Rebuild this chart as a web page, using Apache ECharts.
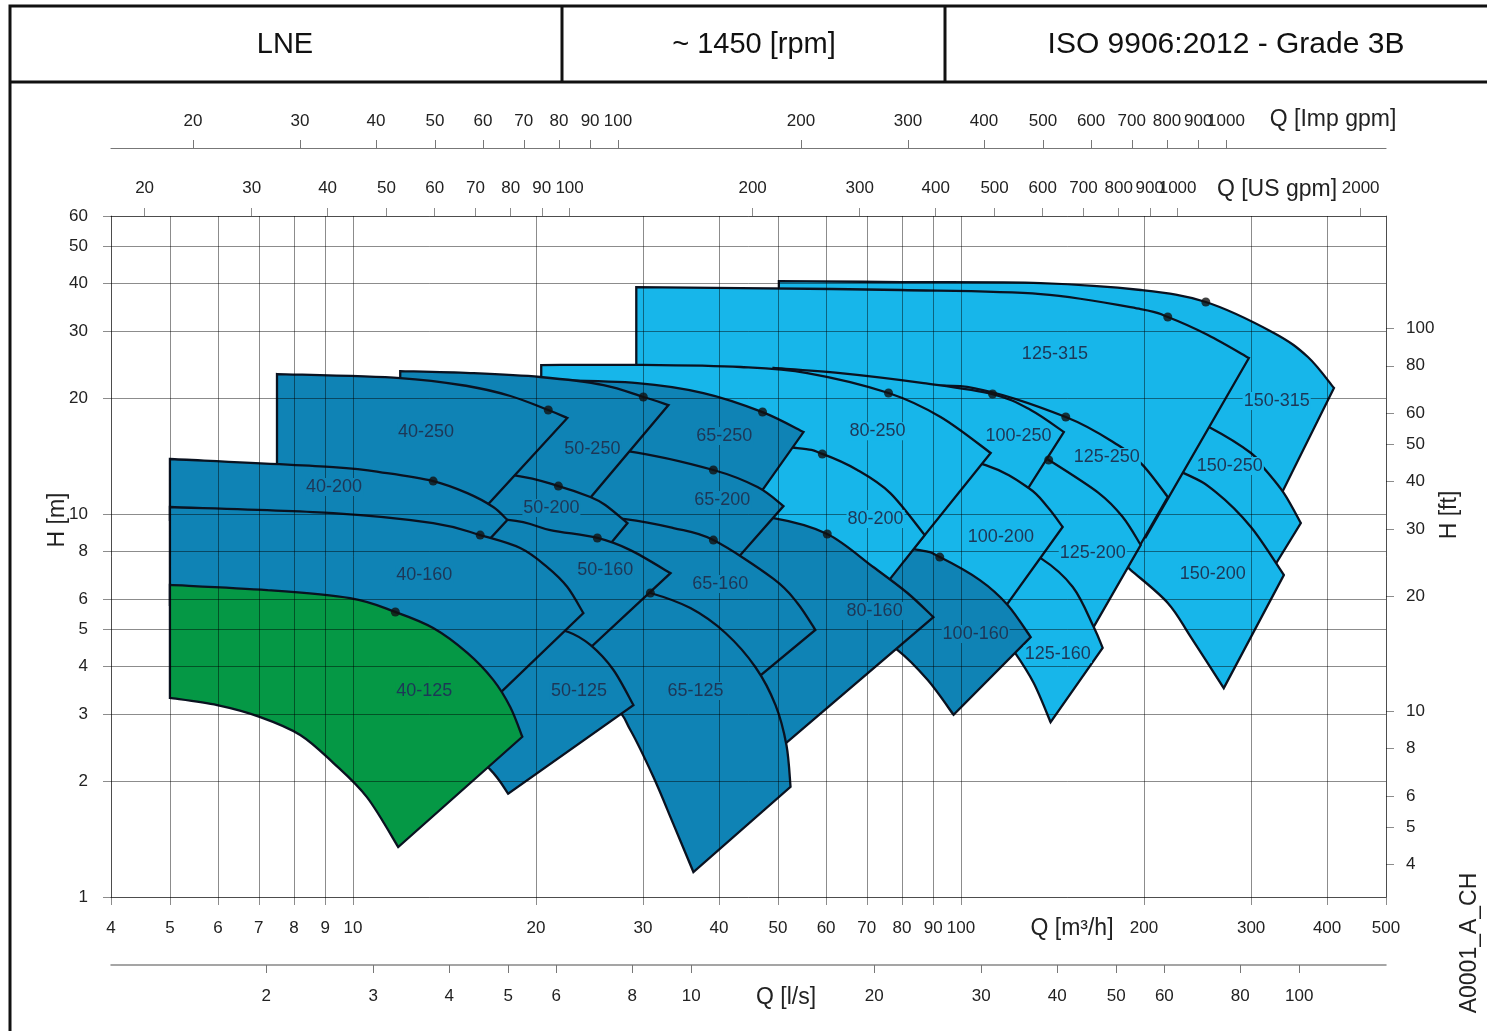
<!DOCTYPE html>
<html>
<head>
<meta charset="utf-8">
<title>LNE ~1450 rpm</title>
<script src="https://cdn.jsdelivr.net/npm/echarts@6/dist/echarts.min.js"></script>
<style>
  html, body { margin: 0; padding: 0; background: #ffffff; }
  #chart { width: 1487px; height: 1031px; }
</style>
</head>
<body>
<div id="chart"></div>
<script>
// ---- axis ranges and tick values ----
const Q_MIN = 4, Q_MAX = 500;          // m3/h
const H_MIN = 1, H_MAX = 60;           // m
const M3H_TO_IMPGPM = 3.66615;
const M3H_TO_USGPM = 4.40287;
const M3H_TO_LS = 1 / 3.6;
const M_TO_FT = 3.28084;

const flowTicksM3h = [4, 5, 6, 7, 8, 9, 10, 20, 30, 40, 50, 60, 70, 80, 90, 100, 200, 300, 400, 500];
const headTicksM = [1, 2, 3, 4, 5, 6, 8, 10, 20, 30, 40, 50, 60];
const flowTicksImpGpm = [20, 30, 40, 50, 60, 70, 80, 90, 100, 200, 300, 400, 500, 600, 700, 800, 900, 1000];
const flowTicksUsGpm = [20, 30, 40, 50, 60, 70, 80, 90, 100, 200, 300, 400, 500, 600, 700, 800, 900, 1000, 2000];
const flowTicksLs = [2, 3, 4, 5, 6, 8, 10, 20, 30, 40, 50, 60, 80, 100];
const headTicksFt = [4, 5, 6, 8, 10, 20, 30, 40, 50, 60, 80, 100];

// ---- operating ranges, [Q m3/h, H m] ----
// maxCurve: largest impeller, left to right; limitTip: lower end of the max-flow edge;
// minCurve: smallest impeller, from the max-flow edge back to the minimum flow.
const p40_125 = { model: '40-125',
  maxCurve: [[5.0, 6.53], [7.22, 6.33], [9.89, 6.03], [11.74, 5.55], [13.55, 5.04], [15.42, 4.34], [17.01, 3.69], [18.15, 3.13], [18.99, 2.62]],
  limitTip: [11.87, 1.35],
  minCurve: [[10.55, 1.82], [9.28, 2.24], [8.19, 2.65], [7.04, 2.95], [5.98, 3.17], [5.0, 3.31]],
  bep: [11.74, 5.55] };
const p40_160 = { model: '40-160',
  maxCurve: [[5.0, 10.43], [9.28, 10.06], [13.55, 9.47], [16.19, 8.81], [18.84, 8.15], [20.87, 7.27], [22.52, 6.45], [23.93, 5.51]],
  limitTip: [16.19, 3.04],
  minCurve: [[13.92, 3.80], [11.96, 4.47], [8.19, 5.28], [5.0, 5.79]],
  bep: [16.19, 8.81] };
const p40_200 = { model: '40-200',
  maxCurve: [[5.0, 13.92], [9.28, 13.26], [11.38, 12.79], [13.55, 12.19], [15.42, 11.34], [17.01, 10.43], [17.94, 9.65]],
  limitTip: [15.59, 7.58],
  minCurve: [[11.96, 8.81], [8.19, 9.36], [5.0, 9.65]],
  bep: [13.55, 12.19] };
const p40_250 = { model: '40-250',
  maxCurve: [[7.5, 23.2], [11.96, 22.65], [15.42, 21.59], [18.15, 20.33], [20.95, 18.69], [22.52, 17.81]],
  limitTip: [16.07, 9.94],
  minCurve: [[12.9, 11.55], [9.9, 12.57], [7.5, 12.87]],
  bep: [20.95, 18.69] };
const p50_125 = { model: '50-125',
  maxCurve: [[11.96, 5.4], [17.48, 5.2], [20.32, 5.08], [22.61, 4.92], [24.57, 4.55], [26.8, 3.92], [28.92, 3.17]],
  limitTip: [18.0, 1.86],
  minCurve: [[16.82, 2.15], [14.45, 2.65], [11.96, 2.93]],
  bep: null };
const p50_160 = { model: '50-160',
  maxCurve: [[11.96, 9.94], [18.0, 9.65], [21.11, 9.08], [25.23, 8.66], [28.59, 8.05], [33.28, 7.01]],
  limitTip: [23.65, 4.23],
  minCurve: [[20.32, 4.98], [16.19, 5.96], [11.96, 6.33]],
  bep: [25.23, 8.66] };
const p50_200 = { model: '50-200',
  maxCurve: [[11.96, 13.67], [18.35, 12.64], [21.77, 11.83], [24.57, 11.08], [26.0, 10.56], [28.28, 9.47]],
  limitTip: [25.52, 7.77],
  minCurve: [[21.93, 8.55], [17.14, 9.19], [11.96, 10.56]],
  bep: [21.77, 11.83] };
const p50_250 = { model: '50-250',
  maxCurve: [[11.96, 23.62], [15.59, 23.34], [20.32, 22.79], [25.82, 21.72], [30.03, 20.21], [33.03, 19.26]],
  limitTip: [23.47, 10.12],
  minCurve: [[18.84, 11.55], [14.45, 13.03], [11.96, 13.42]],
  bep: [30.03, 20.21] };
const p65_125 = { model: '65-125',
  maxCurve: [[20.4, 6.93], [25.52, 6.64], [30.84, 6.22], [35.89, 5.68], [40.99, 4.89], [45.92, 3.98], [49.54, 3.17], [51.64, 2.49], [52.44, 1.94]],
  limitTip: [36.3, 1.162],
  minCurve: [[33.65, 1.55], [31.19, 2.06], [28.59, 2.73], [26.7, 3.17], [20.4, 4.42]],
  bep: [30.84, 6.22] };
const p65_160 = { model: '65-160',
  maxCurve: [[20.4, 10.12], [28.05, 9.70], [33.65, 9.19], [39.15, 8.55], [49.17, 6.77], [53.8, 5.86], [57.6, 4.98]],
  limitTip: [43.4, 3.43],
  minCurve: [[37.28, 4.42], [30.84, 5.79], [25.52, 6.53], [20.4, 6.93]],
  bep: [39.15, 8.55] };
const p65_200 = { model: '65-200',
  maxCurve: [[20.4, 15.14], [28.28, 14.6], [39.15, 13.03], [46.27, 11.76], [51.05, 10.49]],
  limitTip: [42.23, 7.45],
  minCurve: [[34.55, 8.30], [28.05, 9.08], [20.4, 9.94]],
  bep: [39.15, 13.03] };
const p65_250 = { model: '65-250',
  maxCurve: [[20.4, 22.38], [29.36, 21.98], [37.7, 20.7], [47.16, 18.46], [55.08, 16.37]],
  limitTip: [45.92, 10.88],
  minCurve: [[37.28, 12.27], [28.28, 13.84], [25.52, 14.69], [20.4, 15.61]],
  bep: [47.16, 18.46] };
const p80_160 = { model: '80-160',
  maxCurve: [[20.4, 10.56], [37.28, 10.12], [49.17, 9.76], [60.26, 8.87], [71.74, 7.27], [81.64, 6.22], [90.06, 5.38]],
  limitTip: [47.69, 2.27],
  minCurve: [[40.21, 3.27], [30.84, 4.69], [20.4, 5.96]],
  bep: [60.26, 8.87] };
const p80_200 = { model: '80-200',
  maxCurve: [[20.4, 15.61], [37.28, 15.61], [53.8, 14.87], [59.14, 14.35], [67.52, 13.03], [76.5, 11.34], [87.14, 8.81]],
  limitTip: [75.08, 6.53],
  minCurve: [[60.04, 7.58], [50.5, 9.08], [37.28, 9.65], [20.4, 10.56]],
  bep: [59.14, 14.35] };
const p80_250 = { model: '80-250',
  maxCurve: [[20.4, 24.49], [29.92, 24.5], [43.4, 24.2], [55.86, 23.34], [76.0, 20.7], [92.55, 17.92], [111.9, 14.43]],
  limitTip: [80.77, 7.58],
  minCurve: [[65.81, 9.65], [54.45, 12.27], [37.28, 13.42], [20.4, 16.57]],
  bep: [76.0, 20.7] };
const p100_160 = { model: '100-160',
  maxCurve: [[49.17, 9.08], [65.81, 8.55], [85.54, 8.05], [92.27, 7.72], [107.4, 6.72], [119.3, 5.79], [130.2, 4.77]],
  limitTip: [97.23, 2.99],
  minCurve: [[88.1, 3.69], [78.57, 4.42], [66.0, 5.28], [49.17, 6.33]],
  bep: [92.27, 7.72] };
const p100_200 = { model: '100-200',
  maxCurve: [[49.17, 16.57], [79.54, 15.14], [109.8, 13.42], [129.2, 11.69], [138.8, 10.43], [146.96, 9.25]],
  limitTip: [114.0, 5.28],
  minCurve: [[96.14, 6.33], [79.54, 6.93], [65.81, 8.55], [49.17, 10.88]],
  bep: null };
const p100_250 = { model: '100-250',
  maxCurve: [[49.17, 24.06], [63.32, 23.34], [86.79, 21.98], [112.7, 20.57], [130.2, 18.69], [147.6, 16.37]],
  limitTip: [124.4, 10.68],
  minCurve: [[107.7, 12.64], [79.54, 15.61], [49.17, 17.6]],
  bep: [112.7, 20.57] };
const p125_160 = { model: '125-160',
  maxCurve: [[49.17, 10.56], [79.54, 9.65], [116.2, 8.55], [135.2, 7.67], [152.7, 6.45], [165.3, 5.07], [171.0, 4.47]],
  limitTip: [140.4, 2.86],
  minCurve: [[131.7, 3.62], [122.5, 4.36], [111.9, 5.28], [79.54, 6.33], [49.17, 7.58]],
  bep: null };
const p125_200 = { model: '125-200',
  maxCurve: [[49.17, 18.69], [79.54, 17.6], [116.2, 15.61], [131.7, 14.52], [139.4, 13.84], [168.5, 11.34], [184.5, 9.82], [197.5, 8.30]],
  limitTip: [157.9, 4.47],
  minCurve: [[135.2, 5.61], [116.2, 6.72], [79.54, 9.65], [49.17, 11.55]],
  bep: [139.4, 13.84] };
const p125_250 = { model: '125-250',
  maxCurve: [[49.17, 22.65], [79.54, 21.59], [104.9, 21.33], [148.7, 17.92], [181.1, 15.14], [199.0, 13.42], [218.8, 11.08]],
  limitTip: [188.7, 7.36],
  minCurve: [[157.4, 9.65], [116.2, 13.03], [79.54, 15.61], [49.17, 16.57]],
  bep: [148.7, 17.92] };
const p125_315 = { model: '125-315',
  maxCurve: [[29.24, 39.14], [43.4, 38.9], [79.54, 38.45], [135.2, 37.53], [197.5, 34.3], [218.8, 32.69], [254.7, 29.34], [297.5, 25.55]],
  limitTip: [201.3, 8.71],
  minCurve: [[169.7, 11.55], [116.2, 17.6], [79.54, 18.69], [49.17, 19.85], [37.28, 17.6], [29.24, 17.6]],
  bep: [218.8, 32.69] };
const p150_200 = { model: '150-200',
  maxCurve: [[50.17, 16.57], [116.2, 16.57], [169.7, 15.61], [232.5, 12.79], [262.5, 11.41], [299.8, 9.25], [339.6, 6.93]],
  limitTip: [270.5, 3.51],
  minCurve: [[238.8, 4.77], [218.8, 5.86], [190.2, 7.14], [169.7, 8.30], [116.2, 10.88], [50.17, 13.03]],
  bep: null };
const p150_250 = { model: '150-250',
  maxCurve: [[50.17, 21.07], [116.2, 20.45], [205.2, 19.85], [257.5, 16.77], [299.8, 14.43], [314.8, 13.19], [339.6, 11.34], [362.2, 9.47]],
  limitTip: [320.9, 6.93],
  minCurve: [[267.4, 8.55], [230.1, 9.65], [169.7, 12.27], [116.2, 15.61], [50.17, 17.6]],
  bep: null };
const p150_315 = { model: '150-315',
  maxCurve: [[50.17, 40.58], [79.54, 40.34], [135.2, 40.1], [197.5, 38.45], [252.7, 35.77], [327.0, 29.7], [372.0, 25.7], [410.6, 21.33]],
  limitTip: [329.5, 10.56],
  minCurve: [[283.4, 13.03], [230.1, 15.61], [116.2, 17.6], [50.17, 22.38]],
  bep: [252.7, 35.77] };

// drawing order: larger pumps at the back, smaller ones in front
const pumpsBackToFront = [
  p150_315, p150_250, p150_200,
  p125_315, p125_250, p125_200, p125_160,
  p100_250, p100_200, p100_160,
  p80_250, p80_200, p80_160,
  p65_250, p65_200, p65_160, p65_125,
  p50_250, p50_200, p50_160, p50_125,
  p40_250, p40_200, p40_160, p40_125
];

// model name and where it is printed, [model, Q, H]
const modelLabels = [
  ['40-125', 13.1, 3.45], ['40-160', 13.1, 6.93], ['40-200', 9.31, 11.76], ['40-250', 13.19, 16.37],
  ['50-125', 23.53, 3.45], ['50-160', 26.0, 7.14], ['50-200', 21.2, 10.37], ['50-250', 24.76, 14.78],
  ['65-125', 36.6, 3.45], ['65-160', 40.2, 6.57], ['65-200', 40.5, 10.88], ['65-250', 40.8, 15.98],
  ['80-160', 72.1, 5.58], ['80-200', 72.35, 9.70], ['80-250', 72.9, 16.45],
  ['100-160', 105.7, 4.86], ['100-200', 116.3, 8.71], ['100-250', 124.3, 15.98],
  ['125-160', 144.3, 4.31], ['125-200', 164.7, 7.91], ['125-250', 173.7, 14.09], ['125-315', 142.7, 26.17],
  ['150-200', 259.5, 6.97], ['150-250', 276.8, 13.34], ['150-315', 330.5, 19.72]
];

const greenModels = ['40-125'];
const lightModels = ['80-200', '80-250', '100-200', '100-250', '125-160', '125-200', '125-250', '125-315', '150-200', '150-250', '150-315'];

// ---- styling ----
const FONT = '"Liberation Sans", Arial, Helvetica, sans-serif';
const GREEN = '#059845';
const DARK = '#0f83b5';
const LIGHT = '#17b6ea';
const OUTLINE = '#0a1220';
const GRID = 'rgba(0,0,0,0.45)';
const TICK_TEXT = '#222';

function fillOf(model) {
  if (greenModels.indexOf(model) >= 0) return GREEN;
  if (lightModels.indexOf(model) >= 0) return LIGHT;
  return DARK;
}

function fmt(v) { return String(Math.round(v * 1000) / 1000); }

// smooth curve through pixel points (Catmull-Rom as cubic Beziers)
function curveThrough(pts) {
  let d = '';
  for (let i = 0; i < pts.length - 1; i++) {
    const p0 = pts[i - 1] || pts[i];
    const p1 = pts[i];
    const p2 = pts[i + 1];
    const p3 = pts[i + 2] || p2;
    d += ' C' + (p1[0] + (p2[0] - p0[0]) / 6) + ',' + (p1[1] + (p2[1] - p0[1]) / 6) +
         ' ' + (p2[0] - (p3[0] - p1[0]) / 6) + ',' + (p2[1] - (p3[1] - p1[1]) / 6) +
         ' ' + p2[0] + ',' + p2[1];
  }
  return d;
}

function logAxisBase(extra) {
  return Object.assign({
    type: 'log', logBase: 10, gridIndex: 0,
    axisLine: { show: true, lineStyle: { color: GRID, width: 1 } },
    axisTick: { show: true, length: 8, lineStyle: { color: GRID, width: 1 } },
    splitLine: { show: false },
    nameGap: 0
  }, extra);
}

function labelStyle(values, margin) {
  return {
    customValues: values, margin: margin, fontSize: 17, color: TICK_TEXT, fontFamily: FONT,
    formatter: fmt, showMinLabel: true, showMaxLabel: true, hideOverlap: false
  };
}

// the Imp gpm scale: its last label sits on a second, line-less axis so that
// the crowded 900 / 1000 pair both stay printed
const impLabelsMain = flowTicksImpGpm.slice(0, -1);
const impLabelsLast = flowTicksImpGpm.slice(-1);

const chart = echarts.init(document.getElementById('chart'), null, { renderer: 'canvas' });

const option = {
  animation: false,
  backgroundColor: '#ffffff',
  grid: { left: 111, top: 216, width: 1275, height: 681, containLabel: false, outerBoundsMode: 'none' },
  xAxis: [
    logAxisBase({
      min: Q_MIN, max: Q_MAX, position: 'bottom', z: 3,
      axisTick: { show: true, length: 8, customValues: flowTicksM3h, lineStyle: { color: GRID, width: 1 } },
      axisLabel: labelStyle(flowTicksM3h, 23),
      splitLine: { show: true, lineStyle: { color: GRID, width: 1 } }
    }),
    logAxisBase({
      min: Q_MIN * M3H_TO_IMPGPM, max: Q_MAX * M3H_TO_IMPGPM, position: 'top', offset: 68,
      axisLine: { show: true, lineStyle: { color: '#777', width: 1.2 } },
      axisTick: { show: true, length: 8, customValues: flowTicksImpGpm, lineStyle: { color: '#777', width: 1 } },
      axisLabel: labelStyle(impLabelsMain, 18)
    }),
    logAxisBase({
      min: Q_MIN * M3H_TO_USGPM, max: Q_MAX * M3H_TO_USGPM, position: 'top', offset: 0, z: 3,
      axisTick: { show: true, length: 8, customValues: flowTicksUsGpm, lineStyle: { color: GRID, width: 1 } },
      axisLabel: labelStyle(flowTicksUsGpm, 19)
    }),
    logAxisBase({
      min: Q_MIN * M3H_TO_LS, max: Q_MAX * M3H_TO_LS, position: 'bottom', offset: 68,
      axisLine: { show: true, lineStyle: { color: '#888', width: 1.5 } },
      axisTick: { show: true, length: 8, customValues: flowTicksLs, lineStyle: { color: '#777', width: 1 } },
      axisLabel: labelStyle(flowTicksLs, 23)
    }),
    logAxisBase({
      min: Q_MIN * M3H_TO_IMPGPM, max: Q_MAX * M3H_TO_IMPGPM, position: 'top', offset: 68,
      axisLine: { show: false },
      axisTick: { show: false, customValues: impLabelsLast },
      axisLabel: labelStyle(impLabelsLast, 18)
    })
  ],
  yAxis: [
    logAxisBase({
      min: H_MIN, max: H_MAX, position: 'left', z: 3,
      axisTick: { show: true, length: 8, customValues: headTicksM, lineStyle: { color: GRID, width: 1 } },
      axisLabel: labelStyle(headTicksM, 23),
      splitLine: { show: true, lineStyle: { color: GRID, width: 1 } }
    }),
    logAxisBase({
      min: H_MIN * M_TO_FT, max: H_MAX * M_TO_FT, position: 'right', z: 3,
      axisTick: { show: true, length: 8, customValues: headTicksFt, lineStyle: { color: GRID, width: 1 } },
      axisLabel: labelStyle(headTicksFt, 20)
    })
  ],
  series: [
    {
      type: 'custom', name: 'ranges', coordinateSystem: 'cartesian2d', xAxisIndex: 0, yAxisIndex: 0,
      z: 2, silent: true, clip: false,
      encode: { x: 0, y: 1 },
      data: pumpsBackToFront.map((p, i) => [p.maxCurve[0][0], p.maxCurve[0][1], i]),
      renderItem: function (params, api) {
        const idx = api.value(2);
        const p = pumpsBackToFront[idx];
        const top = p.maxCurve.map(pt => api.coord(pt));
        const low = [p.limitTip].concat(p.minCurve).map(pt => api.coord(pt));
        const d = 'M' + top[0][0] + ',' + top[0][1] + curveThrough(top) +
                  ' L' + low[0][0] + ',' + low[0][1] + curveThrough(low) + ' Z';
        return {
          type: 'path', z2: idx,
          shape: { pathData: d },
          style: { fill: fillOf(p.model), stroke: OUTLINE, lineWidth: 2.3, lineJoin: 'miter' }
        };
      }
    },
    {
      type: 'custom', name: 'models', coordinateSystem: 'cartesian2d', xAxisIndex: 0, yAxisIndex: 0,
      z: 4, silent: true, clip: false,
      encode: { x: 0, y: 1 },
      data: modelLabels.map((l, i) => [l[1], l[2], i]),
      renderItem: function (params, api) {
        const l = modelLabels[api.value(2)];
        const c = api.coord([l[1], l[2]]);
        return {
          type: 'text', x: c[0], y: c[1],
          style: {
            text: l[0], align: 'center', verticalAlign: 'middle',
            font: '18px ' + FONT, fill: '#1d3757',
            backgroundColor: fillOf(l[0]), padding: [0, 1]
          }
        };
      }
    },
    {
      type: 'scatter', name: 'bep', xAxisIndex: 0, yAxisIndex: 0, z: 5, silent: true,
      symbol: 'circle', symbolSize: 9,
      itemStyle: { color: '#111' },
      data: pumpsBackToFront.filter(p => p.bep).map(p => p.bep)
    }
  ],
  graphic: [
    { type: 'rect', silent: true, shape: { x: 10, y: 6, width: 1490, height: 1040 }, style: { fill: null, stroke: '#111', lineWidth: 3 } },
    { type: 'line', silent: true, shape: { x1: 10, y1: 82, x2: 1500, y2: 82 }, style: { stroke: '#111', lineWidth: 3 } },
    { type: 'line', silent: true, shape: { x1: 562, y1: 6, x2: 562, y2: 82 }, style: { stroke: '#111', lineWidth: 3 } },
    { type: 'line', silent: true, shape: { x1: 945, y1: 6, x2: 945, y2: 82 }, style: { stroke: '#111', lineWidth: 3 } },
    { type: 'text', silent: true, x: 285, y: 45, style: { text: 'LNE', font: '29px ' + FONT, fill: '#111', align: 'center', verticalAlign: 'middle' } },
    { type: 'text', silent: true, x: 754, y: 45, style: { text: '~ 1450 [rpm]', font: '29px ' + FONT, fill: '#111', align: 'center', verticalAlign: 'middle' } },
    { type: 'text', silent: true, x: 1226, y: 45, style: { text: 'ISO 9906:2012 - Grade 3B', font: '30px ' + FONT, fill: '#111', align: 'center', verticalAlign: 'middle' } },
    { type: 'text', silent: true, x: 1333, y: 120, style: { text: 'Q [Imp gpm]', font: '23px ' + FONT, fill: '#222', align: 'center', verticalAlign: 'middle' } },
    { type: 'text', silent: true, x: 1277, y: 190, style: { text: 'Q [US gpm]', font: '23px ' + FONT, fill: '#222', align: 'center', verticalAlign: 'middle' } },
    { type: 'text', silent: true, x: 1072, y: 929, style: { text: 'Q [m³/h]', font: '23px ' + FONT, fill: '#222', align: 'center', verticalAlign: 'middle' } },
    { type: 'text', silent: true, x: 786, y: 998, style: { text: 'Q [l/s]', font: '23px ' + FONT, fill: '#222', align: 'center', verticalAlign: 'middle' } },
    { type: 'text', silent: true, x: 58, y: 520, rotation: Math.PI / 2, style: { text: 'H [m]', font: '23px ' + FONT, fill: '#222', align: 'center', verticalAlign: 'middle' } },
    { type: 'text', silent: true, x: 1450, y: 515, rotation: Math.PI / 2, style: { text: 'H [ft]', font: '23px ' + FONT, fill: '#222', align: 'center', verticalAlign: 'middle' } },
    { type: 'text', silent: true, x: 1470, y: 943, rotation: Math.PI / 2, style: { text: 'A0001_A_CH', font: '23px ' + FONT, fill: '#222', align: 'center', verticalAlign: 'middle' } }
  ]
};

chart.setOption(option);
</script>
</body>
</html>
